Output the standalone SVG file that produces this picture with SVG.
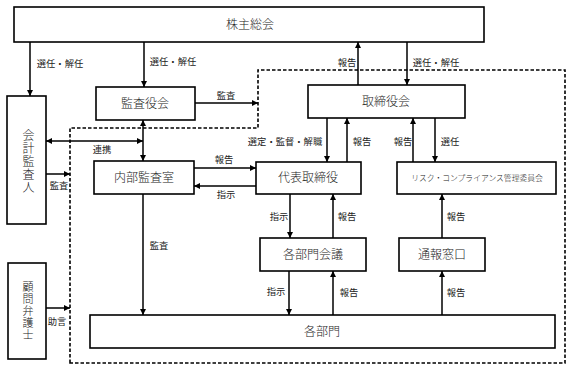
<svg xmlns="http://www.w3.org/2000/svg" width="573" height="371" viewBox="0 0 573 371">
<defs>
<marker id="ah" viewBox="0 0 10 10" refX="10" refY="5" markerWidth="6" markerHeight="6" markerUnits="userSpaceOnUse" orient="auto-start-reverse">
<path d="M0,0 L10,5 L0,10 z" fill="#000"/>
</marker>
</defs>
<style>
.box{fill:#fff;stroke:#000;stroke-width:1.6}
.t{font-family:"Liberation Serif","Noto Sans CJK JP",serif;font-size:12px;fill:#222;text-anchor:middle;dominant-baseline:central;font-weight:300}
.v{writing-mode:vertical-rl;letter-spacing:1px}
.l{font-family:"Liberation Serif","Noto Sans CJK JP",serif;font-size:9.3px;fill:#222;text-anchor:middle;dominant-baseline:central}
.s{font-size:7.8px}
.c{fill:none;stroke:#000;stroke-width:1.5}
.a{marker-end:url(#ah)}
.b{marker-start:url(#ah);marker-end:url(#ah)}
.d{fill:none;stroke:#000;stroke-width:1.6;stroke-dasharray:3.5,2}
</style>
<rect width="573" height="371" fill="#fff"/>
<g id="boundary">
<path class="d" d="M70,363 L70,128 L258,128 L258,70 L565,70 L565,363 Z"/>
</g>
<g id="connectors">
<line class="c a" x1="30" y1="42" x2="30" y2="96"/>
<line class="c a" x1="144" y1="42" x2="144" y2="87"/>
<line class="c a" x1="195" y1="103" x2="258" y2="103"/>
<line class="c b" x1="143" y1="120" x2="143" y2="161"/>
<line class="c b" x1="46" y1="141" x2="143" y2="141"/>
<line class="c a" x1="46" y1="174" x2="70" y2="174"/>
<line class="c a" x1="46" y1="308" x2="70" y2="308"/>
<line class="c a" x1="194" y1="168" x2="256" y2="168"/>
<line class="c a" x1="256" y1="186" x2="194" y2="186"/>
<line class="c a" x1="143" y1="194" x2="143" y2="315"/>
<line class="c a" x1="358" y1="85" x2="358" y2="42"/>
<line class="c a" x1="407" y1="42" x2="407" y2="85"/>
<line class="c a" x1="327" y1="118" x2="327" y2="162"/>
<line class="c a" x1="347" y1="162" x2="347" y2="118"/>
<line class="c a" x1="413" y1="162" x2="413" y2="118"/>
<line class="c a" x1="435" y1="118" x2="435" y2="162"/>
<line class="c a" x1="290" y1="194" x2="290" y2="238"/>
<line class="c a" x1="333" y1="238" x2="333" y2="194"/>
<line class="c a" x1="289" y1="271" x2="289" y2="315"/>
<line class="c a" x1="333" y1="315" x2="333" y2="271"/>
<line class="c a" x1="442" y1="238" x2="442" y2="194"/>
<line class="c a" x1="442" y1="315" x2="442" y2="271"/>
<text class="l" x="60" y="64">選任・解任</text>
<text class="l" x="173" y="62">選任・解任</text>
<text class="l" x="226" y="96">監査</text>
<text class="l" x="102" y="150">連携</text>
<text class="l" x="224" y="160">報告</text>
<text class="l" x="226" y="195">指示</text>
<text class="l" x="59" y="186">監査</text>
<text class="l" x="159" y="246">監査</text>
<text class="l" x="57" y="322">助言</text>
<text class="l" x="347" y="63">報告</text>
<text class="l" x="436" y="63">選任・解任</text>
<text class="l" x="285" y="142">選定・監督・解職</text>
<text class="l" x="362" y="142">報告</text>
<text class="l" x="403" y="142">報告</text>
<text class="l" x="450" y="142">選任</text>
<text class="l" x="279" y="217">指示</text>
<text class="l" x="347" y="217">報告</text>
<text class="l" x="456" y="217">報告</text>
<text class="l" x="276" y="292">指示</text>
<text class="l" x="349" y="293">報告</text>
<text class="l" x="456" y="293">報告</text>
</g>
<g id="shareholders">
<rect class="box" x="14" y="7" width="470" height="35"/>
<text class="t" x="250" y="25">株主総会</text>
</g>
<g id="auditor">
<rect class="box" x="7" y="96" width="39" height="128"/>
<text class="t v" x="27" y="162">会計監査人</text>
</g>
<g id="lawyer">
<rect class="box" x="8" y="263" width="38" height="96"/>
<text class="t v" x="27" y="311" style="font-size:11px">顧問弁護士</text>
</g>
<g id="kansayakukai">
<rect class="box" x="96" y="87" width="99" height="33"/>
<text class="t" x="145" y="104">監査役会</text>
</g>
<g id="naibukansa">
<rect class="box" x="94" y="161" width="100" height="33"/>
<text class="t" x="144" y="178">内部監査室</text>
</g>
<g id="torishimariyakukai">
<rect class="box" x="308" y="85" width="157" height="33"/>
<text class="t" x="386" y="102">取締役会</text>
</g>
<g id="daihyo">
<rect class="box" x="256" y="162" width="105" height="32"/>
<text class="t" x="308" y="178">代表取締役</text>
</g>
<g id="risk">
<rect class="box" x="397" y="162" width="159" height="32"/>
<text class="t s" x="477" y="178">リスク・コンプライアンス管理委員会</text>
</g>
<g id="kaigi">
<rect class="box" x="260" y="238" width="106" height="33"/>
<text class="t" x="313" y="255">各部門会議</text>
</g>
<g id="tsuho">
<rect class="box" x="399" y="238" width="86" height="33"/>
<text class="t" x="442" y="255">通報窓口</text>
</g>
<g id="kakubumon">
<rect class="box" x="90" y="315" width="465" height="33"/>
<text class="t" x="322" y="332">各部門</text>
</g>
</svg>
